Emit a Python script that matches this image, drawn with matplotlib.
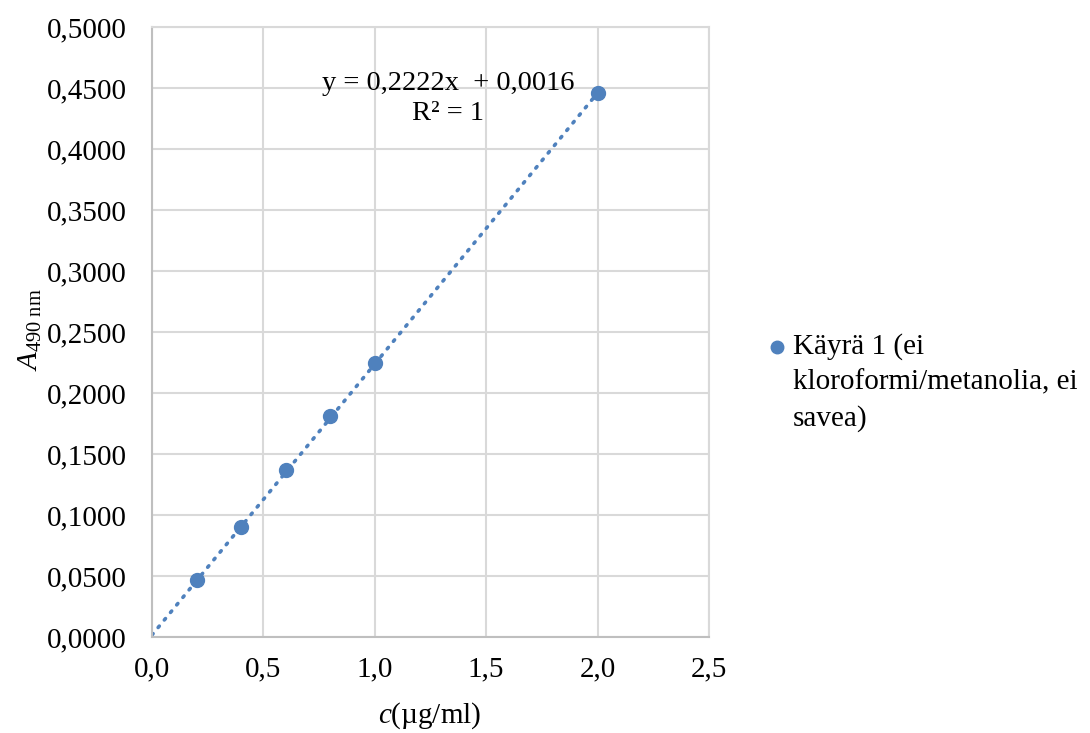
import numpy as np
import matplotlib.pyplot as plt
from matplotlib.ticker import FuncFormatter, MultipleLocator
from matplotlib.lines import Line2D

plt.rcParams['font.family'] = ['Liberation Serif', 'DejaVu Serif']
plt.rcParams['mathtext.fontset'] = 'custom'
plt.rcParams['mathtext.rm'] = 'Liberation Serif'
plt.rcParams['mathtext.it'] = 'Liberation Serif:italic'

# standard curve data
conc = [0.2, 0.4, 0.6, 0.8, 1.0, 2.0]
absorb = [0.0467, 0.0902, 0.1365, 0.1810, 0.2247, 0.4460]
slope = 0.2222
intercept = 0.0016
fit_x = [0.0, 2.0]
legend_label = ['Käyrä 1 (ei', 'kloroformi/metanolia, ei', 'savea)']

blue = '#4f81bd'
grid = '#d9d9d9'

fig = plt.figure(figsize=(10.9, 7.33), dpi=100)
ax = fig.add_axes([0.1394, 0.131, 0.511, 0.832])

fx = np.array(fit_x)
ax.plot(fx, slope * fx + intercept, linestyle=(0, (0.5, 2.2)), color=blue,
        linewidth=2.6, dash_capstyle='round', zorder=2)
ax.plot(conc, absorb, 'o', color=blue, markersize=10, zorder=3)

ax.set_xlim(0, 2.5)
ax.set_ylim(0, 0.5)
ax.xaxis.set_major_locator(MultipleLocator(0.5))
ax.yaxis.set_major_locator(MultipleLocator(0.05))
ax.xaxis.set_major_formatter(FuncFormatter(lambda v, p: f'{v:.1f}'.replace('.', ',')))
ax.yaxis.set_major_formatter(FuncFormatter(lambda v, p: f'{v:.4f}'.replace('.', ',')))
ax.grid(True, color=grid, linewidth=1.5)
ax.set_axisbelow(True)
for s in ['top', 'right']:
    ax.spines[s].set_color(grid)
    ax.spines[s].set_linewidth(1.5)
for s in ['left', 'bottom']:
    ax.spines[s].set_color('#bfbfbf')
    ax.spines[s].set_linewidth(1.5)
ax.tick_params(axis='both', length=0, labelsize=21)
ax.tick_params(axis='y', pad=18)
ax.tick_params(axis='x', pad=14)

ax.text(1.33, 0.4415, 'y = 0,2222x  + 0,0016\nR² = 1', ha='center', va='center',
        fontsize=20.5, linespacing=1.25, multialignment='center')

fig.text(0.0275, 0.55, r'$\mathit{A}_{\mathrm{490\ nm}}$', rotation=90,
         ha='center', va='center', fontsize=21)
fig.text(0.394, 0.023, r'$\mathit{c}$(µg/ml)', ha='center', va='center', fontsize=21)

# legend
fig.add_artist(Line2D([0.7128], [0.5266], marker='o', color=blue, markersize=9,
                      transform=fig.transFigure))
for i, line in enumerate(legend_label):
    fig.text(0.7275, 0.5266 - i * 0.0485, line, ha='left', va='center', fontsize=21)

fig.savefig('out.png', dpi=100)
